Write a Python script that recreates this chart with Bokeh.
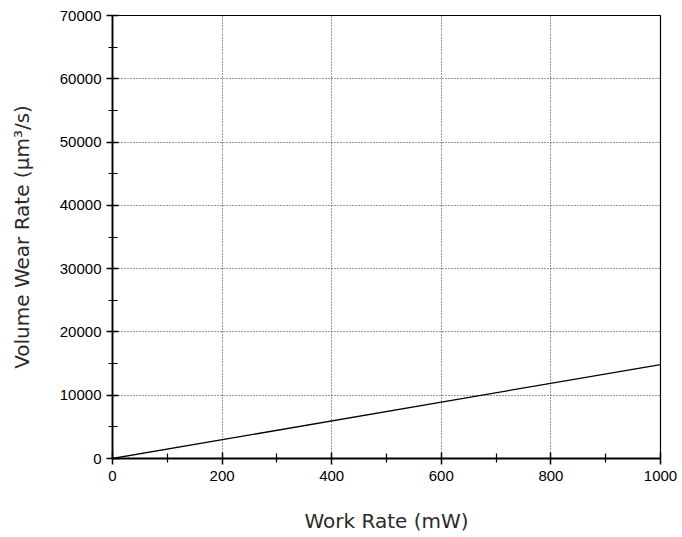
from bokeh.plotting import figure
from bokeh.models import ColumnDataSource, Range1d, FixedTicker
from bokeh.embed import file_html
from bokeh.resources import INLINE

# Work rate (mW) and resulting volume wear rate (µm³/s)
work_rate = [0, 1000]
wear_rate = [0, 14850]

x_ticks = [0, 200, 400, 600, 800, 1000]
x_minor = [100, 300, 500, 700, 900]
y_ticks = [0, 10000, 20000, 30000, 40000, 50000, 60000, 70000]
y_minor = [5000, 15000, 25000, 35000, 45000, 55000, 65000]

p = figure(width=682, height=537, output_backend="svg", toolbar_location=None,
           x_range=Range1d(0, 1000), y_range=Range1d(0, 70000),
           min_border_left=112, min_border_right=22, min_border_top=15,
           min_border_bottom=79)
p.background_fill_color = "white"
p.border_fill_color = "white"
p.outline_line_color = "black"
p.outline_line_width = 1.2

src = ColumnDataSource(dict(x=work_rate, y=wear_rate))
p.line("x", "y", source=src, line_color="black", line_width=1.3)

for ax, ticks, minor in ((p.xaxis[0], x_ticks, x_minor), (p.yaxis[0], y_ticks, y_minor)):
    ax.ticker = FixedTicker(ticks=ticks, minor_ticks=minor)
    ax.axis_line_width = 1.8
    ax.axis_line_color = "black"
    ax.major_tick_line_width = 1.5
    ax.minor_tick_line_width = 1.2
    ax.major_tick_in = 6
    ax.major_tick_out = 6
    ax.minor_tick_in = 5
    ax.minor_tick_out = 4
    ax.major_label_text_font = "Liberation Sans"
    ax.major_label_text_font_size = "15px"
    ax.major_label_text_color = "black"
    ax.axis_label_text_font = "DejaVu Sans"
    ax.axis_label_text_font_size = "20px"
    ax.axis_label_text_font_style = "normal"
    ax.axis_label_text_color = "#2a2a2a"

p.xaxis.axis_label = "Work Rate (mW)"
p.yaxis.axis_label = "Volume Wear Rate (µm³/s)"
p.xaxis.major_label_standoff = 6
p.yaxis.major_label_standoff = 5
p.xaxis.axis_label_standoff = 25
p.yaxis.axis_label_standoff = 23
p.yaxis.major_label_orientation = "horizontal"

for g in (p.xgrid[0], p.ygrid[0]):
    g.grid_line_color = "#333333"
    g.grid_line_dash = "1 2"
    g.grid_line_width = 1

open("out.html", "w").write(file_html(p, INLINE))
